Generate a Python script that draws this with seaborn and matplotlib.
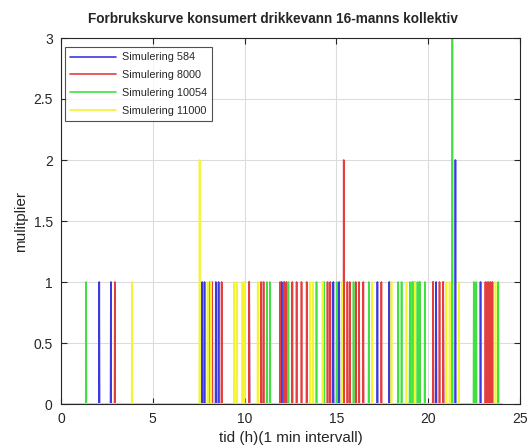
import numpy as np
import pandas as pd
import matplotlib
matplotlib.use("Agg")
import matplotlib.pyplot as plt
import seaborn as sns

# ---- data (spike times in hours, spike heights) ----
series_names = ["Simulering 584", "Simulering 8000", "Simulering 10054", "Simulering 11000"]

t584 = [2.08, 2.71, 7.68, 7.81, 8.44, 8.58, 10.25, 12.02, 12.16, 14.84, 15.15, 17.23,
        17.88, 20.26, 20.44, 20.81, 21.48, 22.85]
v584 = [1, 1, 1, 1, 1, 1, 1, 1, 1, 1, 1, 1, 1, 1, 1, 1, 2, 1]

t8000 = [2.93, 8.23, 8.75, 10.25, 10.90, 11.03, 11.93, 12.16, 12.29, 12.60, 12.83, 13.10,
         13.38, 14.51, 14.66, 15.40, 15.60, 15.74, 16.05, 16.23, 16.47, 17.45, 19.15,
         19.27, 19.54, 20.26, 20.62, 20.81, 23.12, 23.21, 23.30, 23.40, 23.50]
v8000 = [1, 1, 1, 1, 1, 1, 1, 1, 1, 1, 1, 1, 1, 1, 1, 2, 1, 1, 1, 1, 1, 1, 1, 1, 1, 1,
         1, 1, 1, 1, 1, 1, 1]

t10054 = [1.36, 8.10, 11.21, 11.39, 12.38, 13.92, 14.33, 15.02, 15.93, 16.77, 18.37,
          18.55, 19.00, 19.15, 19.41, 19.54, 19.81, 21.31, 22.49, 22.61, 23.81]
v10054 = [1, 1, 1, 1, 1, 1, 1, 1, 1, 1, 1, 1, 1, 1, 1, 1, 1, 3, 1, 1, 1]

t11000 = [3.87, 7.55, 7.99, 8.16, 9.44, 9.56, 9.89, 9.98, 10.72, 13.56, 13.74, 14.25,
          15.30, 16.95, 18.00, 18.82, 19.27, 20.98, 21.16, 21.67, 23.66]
v11000 = [1, 2, 1, 1, 1, 1, 1, 1, 1, 1, 1, 1, 1, 1, 1, 1, 1, 1, 1, 1, 1]

spike_times = [t584, t8000, t10054, t11000]
spike_vals = [v584, v8000, v10054, v11000]

x_ticks = [0, 5, 10, 15, 20, 25]
y_ticks = [0, 0.5, 1, 1.5, 2, 2.5, 3]

# ---- build 1-minute resolution series ----
minutes = np.arange(24 * 60)
frames = []
for name, ts, vs in zip(series_names, spike_times, spike_vals):
    vals = np.zeros(len(minutes))
    for t, v in zip(ts, vs):
        vals[int(round(t * 60))] = v
    frames.append(pd.DataFrame({"t": minutes / 60.0, "v": vals, "series": name}))
df = pd.concat(frames, ignore_index=True)

sns.set_style("white")
plt.rcParams["font.family"] = ["Liberation Sans", "DejaVu Sans"]

fig = plt.figure(figsize=(5.32, 4.48), dpi=100)
ax = fig.add_axes([61 / 532, 1 - 404 / 448, 459 / 532, 366 / 448])

palette = {"Simulering 584": "#3a3ade", "Simulering 8000": "#e23e3e",
           "Simulering 10054": "#40e040", "Simulering 11000": "#f4f430"}
sns.lineplot(data=df, x="t", y="v", hue="series", palette=palette, linewidth=1.2,
             estimator=None, sort=False, ax=ax)

ax.set_xlim(0, 25)
ax.set_ylim(0, 3)
ax.set_xticks(x_ticks)
ax.set_yticks(y_ticks)
ax.set_xticklabels([str(v) for v in x_ticks])
ax.set_yticklabels([("%g" % v) for v in y_ticks])
ax.grid(True, color="#dcdcdc", linewidth=0.8)
ax.set_axisbelow(True)
for s in ax.spines.values():
    s.set_color("#262626")
    s.set_linewidth(0.8)
ax.tick_params(direction="in", length=4, colors="#262626", labelsize=10, pad=6,
               top=True, right=True, bottom=True, left=True)

ax.set_title("Forbrukskurve konsumert drikkevann 16-manns kollektiv",
             fontsize=9.8, fontweight="bold", pad=11, x=0.462)
ax.set_xlabel("tid (h)(1 min intervall)", fontsize=11, color="#262626", labelpad=3)
ax.set_ylabel("mulitplier", fontsize=11, color="#262626")

leg = ax.legend(loc="upper left", bbox_to_anchor=(0.002, 0.983), fontsize=7.8,
                frameon=True, fancybox=False, handlelength=4.2, borderpad=0.45,
                labelspacing=0.72, handletextpad=0.55, borderaxespad=0.3)
leg.get_frame().set_edgecolor("#262626")
leg.get_frame().set_linewidth(0.8)
for line in leg.get_lines():
    line.set_linewidth(1.2)

fig.savefig("out.png", dpi=100)
